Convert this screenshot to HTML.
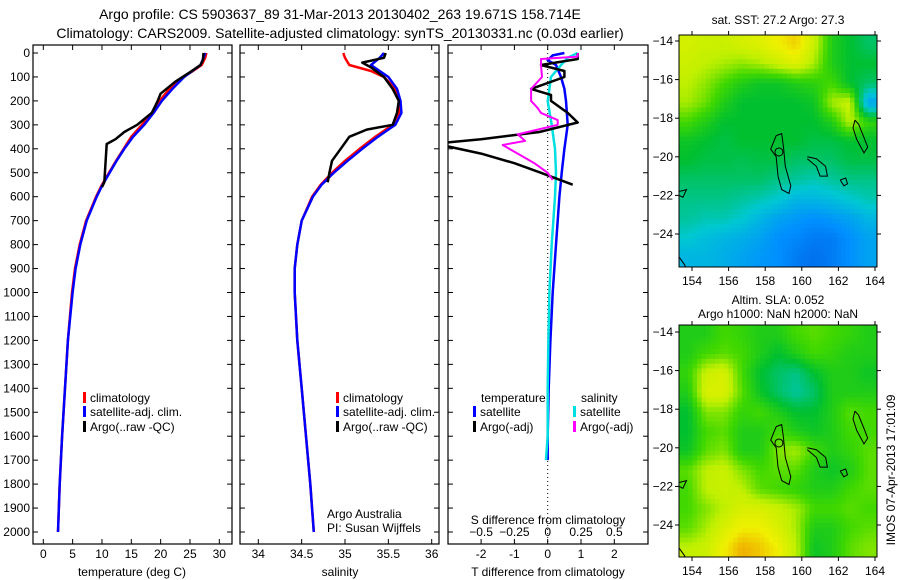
<!DOCTYPE html>
<html><head><meta charset="utf-8"><style>
html,body{margin:0;padding:0;background:#fff;}
svg{display:block;font-family:"Liberation Sans",sans-serif;}
text{fill:#000;}
</style></head><body>
<svg id="fig" width="900" height="580" viewBox="0 0 900 580" xmlns="http://www.w3.org/2000/svg">
<defs>
<clipPath id="c1"><rect x="33" y="45" width="199" height="499"/></clipPath>
<clipPath id="c2"><rect x="240" y="45" width="199" height="499"/></clipPath>
<clipPath id="c3"><rect x="448" y="45" width="200" height="499"/></clipPath>
<clipPath id="cm1"><rect x="679" y="35" width="198" height="232"/></clipPath>
<clipPath id="cm2"><rect x="679" y="325" width="198" height="232"/></clipPath>
<filter id="blur" x="0" y="0" width="1" height="1"><feGaussianBlur stdDeviation="5"/></filter>
</defs>
<text x="340" y="19" font-size="14" text-anchor="middle">Argo profile: CS 5903637_89 31-Mar-2013 20130402_263 19.671S 158.714E</text>
<text x="340" y="38" font-size="14" text-anchor="middle">Climatology: CARS2009. Satellite-adjusted climatology: synTS_20130331.nc (0.03d earlier)</text>
<g id="g1"></g>
<g id="g2"></g>
<g id="g3"></g>
<g id="m1"></g>
<g id="m2"></g>
<text x="778" y="24" font-size="12" text-anchor="middle">sat. SST: 27.2 Argo: 27.3</text>
<text x="778" y="304" font-size="12" text-anchor="middle">Altim. SLA: 0.052</text>
<text x="778" y="318" font-size="12" text-anchor="middle">Argo h1000: NaN h2000: NaN</text>
<text transform="translate(895,470) rotate(-90)" font-size="12" text-anchor="middle">IMOS 07-Apr-2013 17:01:09</text>
</svg>
<script>
// ---- data ----
const tempDepth=[0,20,50,75,100,150,200,250,300,350,400,450,500,550,600,700,800,900,1000,1200,1400,1600,1800,2000];
const tempClim=[27.8,27.6,27,25.5,23.8,21.5,19.8,18.5,16.8,15,13.7,12.4,11.2,10,9,7.3,6.2,5.4,4.9,4.2,3.7,3.2,2.8,2.5];
const tempSat=[27.6,27.3,26.8,25.4,24,22,20.2,18.8,17.2,15.3,13.8,12.5,11.3,10.1,9.1,7.4,6.3,5.5,5,4.2,3.7,3.2,2.8,2.5];
const argoTDepth=[0,30,50,80,120,170,200,250,300,330,360,380,420,460,500,540,560];
const argoTemp=[27.3,27.2,26.8,25.0,22.5,20.0,19.5,18.5,16.0,13.8,12.3,10.8,10.7,10.6,10.5,10.4,10.0];
const salClim=[34.98,35.0,35.05,35.3,35.45,35.58,35.62,35.62,35.55,35.35,35.17,35.0,34.85,34.72,34.62,34.5,34.45,34.42,34.42,34.45,34.5,34.55,34.6,34.64];
const salSat=[35.45,35.4,35.3,35.4,35.5,35.6,35.64,35.65,35.58,35.38,35.2,35.03,34.87,34.73,34.63,34.5,34.45,34.42,34.42,34.45,34.5,34.55,34.6,34.64];
const argoSDepth=[0,20,40,60,100,150,200,250,300,320,350,400,450,500,540];
const argoSal=[35.47,35.45,35.2,35.3,35.45,35.55,35.62,35.6,35.55,35.25,35.05,34.95,34.85,34.82,34.8];
const dTSatDepth=[0,10,30,50,100,150,200,300,400,500,600,800,1000,1200,1400,1600,1700];
const dTSat=[0.5,0.15,0.0,0.25,0.4,0.5,0.55,0.6,0.5,0.42,0.35,0.25,0.15,0.08,0.03,0,0];
const dSSatDepth=[0,20,50,100,150,200,300,400,500,600,800,1000,1200,1400,1600,1700];
const dSSat=[0.9,0.6,0.4,0.1,0.05,0.0,0.12,0.22,0.25,0.22,0.12,0.05,0.02,0,0,-0.05];
const dTArgoDepth=[0,25,50,75,100,150,175,200,250,290,330,360,380,390,420,460,500,550];
const dTArgo=[0.9,0.9,-0.2,0.5,0.5,-0.5,0.1,0.1,0.6,0.9,-0.25,-2.0,-3.5,-3.0,-2.0,-1.0,-0.2,0.75];
const dSArgoDepth=[0,15,25,50,100,150,200,230,250,280,300,320,340,367,384,420,460,500,530];
const dSArgo=[0.9,0.9,-0.2,-0.2,-0.17,-0.5,-0.5,-0.3,-0.2,0.3,0.3,-0.3,-0.9,-0.68,-1.35,-0.9,-0.4,0.0,0.15];
const depthTicks=[0,100,200,300,400,500,600,700,800,900,1000,1100,1200,1300,1400,1500,1600,1700,1800,1900,2000];
const tempTicks=[0,5,10,15,20,25,30];
const salTicks=[34,34.5,35,35.5,36];
const tDiffTicks=[-2,-1,0,1,2];
const sDiffTicks=[-0.5,-0.25,0,0.25,0.5];
const sDiffLabels=["\u22120.5","\u22120.25","0","0.25","0.5"];
const lonTicks=[154,156,158,160,162,164];
const latTicks=[14,16,18,20,22,24];
const sstGrid=[
[.74,.72,.72,.74,.76,.8,.84,.72,.55,.5,.45],
[.72,.7,.68,.66,.68,.72,.76,.68,.55,.5,.5],
[.7,.66,.6,.55,.52,.52,.55,.57,.6,.5,.45],
[.68,.63,.55,.5,.5,.5,.5,.52,.68,.72,.25],
[.6,.55,.5,.5,.5,.5,.5,.5,.55,.7,.58],
[.52,.5,.48,.5,.5,.5,.5,.48,.48,.5,.5],
[.5,.48,.48,.47,.48,.48,.45,.45,.45,.48,.48],
[.45,.45,.45,.45,.45,.42,.4,.38,.4,.42,.42],
[.42,.42,.42,.4,.38,.35,.3,.3,.32,.35,.38],
[.4,.38,.38,.35,.3,.25,.22,.2,.22,.25,.3],
[.35,.32,.3,.28,.25,.2,.18,.15,.15,.2,.25],
[.3,.3,.28,.25,.22,.2,.15,.12,.15,.2,.25]];
const slaGrid=[
[.55,.55,.6,.58,.55,.55,.6,.62,.6,.58,.55],
[.55,.6,.62,.6,.55,.5,.55,.6,.58,.55,.55],
[.58,.72,.75,.6,.5,.45,.42,.5,.55,.55,.52],
[.55,.75,.75,.62,.52,.45,.4,.45,.55,.55,.55],
[.5,.65,.65,.58,.6,.55,.5,.5,.55,.62,.6],
[.5,.6,.62,.55,.55,.6,.55,.52,.55,.6,.6],
[.52,.62,.65,.55,.55,.65,.68,.6,.55,.58,.62],
[.62,.7,.72,.65,.6,.62,.62,.55,.52,.55,.62],
[.6,.7,.72,.7,.62,.6,.58,.55,.55,.6,.62],
[.6,.65,.7,.75,.75,.72,.68,.6,.6,.62,.6],
[.62,.68,.75,.8,.8,.75,.68,.55,.55,.6,.62],
[.7,.72,.8,.88,.85,.8,.7,.52,.55,.62,.65]];
const island1=[[158.6,18.9],[158.9,18.8],[159.0,19.5],[159.1,20.5],[159.4,21.5],[159.3,21.9],[158.9,21.7],[158.7,21],[158.6,20],[158.3,19.6],[158.6,18.9]];
const island2=[[160.3,20.0],[160.8,20.1],[161.3,20.5],[161.4,21],[161.0,21],[160.8,20.5],[160.3,20.1]];
const island3=[[162.9,18.1],[163.1,18.3],[163.4,19.0],[163.6,19.5],[163.4,19.8],[163.0,19.1],[162.8,18.5],[162.9,18.1]];
const island4=[[153.3,21.8],[153.7,21.7],[153.5,22.1],[153.3,22.0]];
const island5=[[153.3,25.2],[153.6,25.6],[153.7,25.9]];
const island6=[[162.1,21.2],[162.4,21.1],[162.5,21.4],[162.3,21.5],[162.1,21.2]];

// ---- helpers ----
const NS="http://www.w3.org/2000/svg";
function mk(parent,tag,attrs){const e=document.createElementNS(NS,tag);for(const k in attrs)e.setAttribute(k,attrs[k]);parent.appendChild(e);return e;}
const y0=53, yPer=0.2395;
function yD(d){return y0+d*yPer;}
function xT(t){return 43.3+t*5.867;}
function xS(s){return 258.3+(s-34)*86.7;}
function xDT(v){return 547.7+v*33.3;}
function xDS(v){return 547.7+v*133.2;}

function frame(g,x,w,name){
  const r=mk(g,'rect',{x:x,y:45,width:w,height:499,fill:'none',stroke:'#000','stroke-width':1.2});
  
  
}
function yTicks(g,x1,x2,labels){
  depthTicks.forEach(d=>{
    const y=yD(d);
    const t1=mk(g,'line',{x1:x1,y1:y,x2:x1+5,y2:y,stroke:'#000'});
    
    
    const t2=mk(g,'line',{x1:x2,y1:y,x2:x2-5,y2:y,stroke:'#000'});
    
    
    if(labels){const t=mk(g,'text',{x:x1-3,y:y+4,'font-size':12,'text-anchor':'end'});t.textContent=d;
      
      }
  });
}
function xTicks(g,vals,fx,labs,ly){
  vals.forEach((v,i)=>{
    const x=fx(v);
    const l=mk(g,'line',{x1:x,y1:544,x2:x,y2:539,stroke:'#000'});
    
    
    const l2=mk(g,'line',{x1:x,y1:45,x2:x,y2:50,stroke:'#000'});
    
    
    const t=mk(g,'text',{x:x,y:ly,'font-size':12,'text-anchor':'middle'});t.textContent=labs?labs[i]:String(v);
    
    
  });
}
function line(g,depths,vals,fx,color,w,clip,name){
  const pts=depths.map((d,i)=>fx(vals[i]).toFixed(1)+','+yD(d).toFixed(1)).join(' ');
  const p=mk(g,'polyline',{points:pts,fill:'none',stroke:color,'stroke-width':w,'clip-path':'url(#'+clip+')','stroke-linejoin':'round'});
  
  
}
function legend(g,x,y,color,label){
  const r=mk(g,'rect',{x:x,y:y-10,width:3,height:11,fill:color});
  
  
  const t=mk(g,'text',{x:x+7,y:y,'font-size':12});t.textContent=label;
  
  
}
function text(g,x,y,s,name,anchor){
  const t=mk(g,'text',{x:x,y:y,'font-size':12,'text-anchor':anchor||'start'});t.textContent=s;
  
  
}

// ---- panel 1 ----
const g1=document.getElementById('g1');
frame(g1,33,199,'temperature-frame');
yTicks(g1,33,232,true);
xTicks(g1,tempTicks,xT,null,558);
text(g1,132,576,'temperature (deg C)','x-axis-title','middle');
line(g1,tempDepth,tempClim,xT,'#ff0000',2.5,'c1','climatology-line');
line(g1,tempDepth,tempSat,xT,'#0000ff',2.5,'c1','satellite-line');
line(g1,argoTDepth,argoTemp,xT,'#000000',2.5,'c1','argo-line');
legend(g1,83,402,'#ff0000','climatology');
legend(g1,83,416,'#0000ff','satellite-adj. clim.');
legend(g1,83,431,'#000000','Argo(..raw -QC)');

// ---- panel 2 ----
const g2=document.getElementById('g2');
frame(g2,240,199,'salinity-frame');
yTicks(g2,240,439,false);
xTicks(g2,salTicks,xS,null,558);
text(g2,340,576,'salinity','x-axis-title','middle');
line(g2,tempDepth,salClim,xS,'#ff0000',2.5,'c2','climatology-line');
line(g2,tempDepth,salSat,xS,'#0000ff',2.5,'c2','satellite-line');
line(g2,argoSDepth,argoSal,xS,'#000000',2.5,'c2','argo-line');
legend(g2,336,402,'#ff0000','climatology');
legend(g2,336,416,'#0000ff','satellite-adj. clim.');
legend(g2,336,431,'#000000','Argo(..raw -QC)');
text(g2,327,518,'Argo Australia','credit-line-1');
text(g2,327,532,'PI: Susan Wijffels','credit-line-2');

// ---- panel 3 ----
const g3=document.getElementById('g3');
frame(g3,448,200,'difference-frame');
yTicks(g3,448,648,false);
xTicks(g3,tDiffTicks,xDT,null,558);
sDiffTicks.forEach((v,i)=>{const t=mk(g3,'text',{x:xDS(v),y:536,'font-size':12,'text-anchor':'middle'});t.textContent=sDiffLabels[i];
  
  });
text(g3,548,524,'S difference from climatology','s-axis-title','middle');
text(g3,548,576,'T difference from climatology','t-axis-title','middle');
const zl=mk(g3,'line',{x1:547.7,y1:45,x2:547.7,y2:544,stroke:'#000','stroke-dasharray':'1,3'});


line(g3,dTSatDepth,dTSat,xDT,'#0000ff',2.5,'c3','t-satellite-diff');
line(g3,dSSatDepth,dSSat,xDT,'#00e0e0',2.5,'c3','s-satellite-diff');
line(g3,dTArgoDepth,dTArgo,xDT,'#000000',2.5,'c3','t-argo-diff');
line(g3,dSArgoDepth,dSArgo,xDT,'#ff00ff',2,'c3','s-argo-diff');
text(g3,481,402,'temperature','legend-header-temperature');
text(g3,581,402,'salinity','legend-header-salinity');
legend(g3,473,416,'#0000ff','satellite');
legend(g3,473,431,'#000000','Argo(-adj)');
legend(g3,573,416,'#00e0e0','satellite');
legend(g3,573,431,'#ff00ff','Argo(-adj)');

// ---- maps ----
const cstops=[[0,[0,64,208]],[0.2,[0,144,255]],[0.35,[0,200,210]],[0.5,[0,192,48]],[0.6,[64,216,0]],[0.7,[192,240,0]],[0.8,[240,240,0]],[0.9,[240,160,0]],[1,[224,96,0]]];
function cmap(v){
  for(let i=1;i<cstops.length;i++){if(v<=cstops[i][0]){const a=cstops[i-1],b=cstops[i];const f=(v-a[0])/(b[0]-a[0]);
    return 'rgb('+a[1].map((c,k)=>Math.round(c+(b[1][k]-c)*f)).join(',')+')';}}
  return 'rgb(224,96,0)';
}
function sample(grid,fr,fc){
  const R=grid.length-1,C=grid[0].length-1;
  const r=Math.max(0,Math.min(R,fr)),c=Math.max(0,Math.min(C,fc));
  const r0=Math.floor(r),c0=Math.floor(c),r1=Math.min(R,r0+1),c1=Math.min(C,c0+1);
  const a=r-r0,b=c-c0;
  return grid[r0][c0]*(1-a)*(1-b)+grid[r0][c1]*(1-a)*b+grid[r1][c0]*a*(1-b)+grid[r1][c1]*a*b;
}
function xLon(l){return 692+(l-154)*18.3;}
function drawMap(g,top,lat14,grid,clip,smooth,name){
  const cg=mk(g,'g',{'clip-path':'url(#'+clip+')'});
  const hg=mk(cg,'g',{});
  const rows=grid.length, cols=grid[0].length, up=4;
  const cw=198/(cols*up), ch=232/(rows*up);
  for(let r=0;r<rows*up;r++)for(let c=0;c<cols*up;c++){
    const v=sample(grid,(r+0.5)/up-0.5,(c+0.5)/up-0.5);
    const e=mk(hg,'rect',{x:(679+c*cw).toFixed(2),y:(top+r*ch).toFixed(2),width:(cw+0.4).toFixed(2),height:(ch+0.4).toFixed(2),fill:cmap(v)});
    
    
  }
  function yLat(l){return lat14+(l-14)*19.3;}
  [island1,island2,island3,island4,island5,island6].forEach(isl=>{
    const p=mk(cg,'polyline',{points:isl.map(q=>xLon(q[0]).toFixed(1)+','+yLat(q[1]).toFixed(1)).join(' '),fill:'none',stroke:'#000','stroke-width':1});
    
    
  });
  const c=mk(cg,'circle',{cx:xLon(158.75),cy:yLat(19.75),r:4,fill:'none',stroke:'#000'});
  
  
  const fr=mk(g,'rect',{x:679,y:top,width:198,height:232,fill:'none',stroke:'#000'});
  
  
  lonTicks.forEach(l=>{const x=xLon(l);
    mk(g,'line',{x1:x,y1:top,x2:x,y2:top-4,stroke:'#000'});
    mk(g,'line',{x1:x,y1:top+232,x2:x,y2:top+236,stroke:'#000'});
    const t=mk(g,'text',{x:x,y:top+250,'font-size':12,'text-anchor':'middle'});t.textContent=l;
    
    });
  latTicks.forEach(l=>{const y=yLat(l);
    mk(g,'line',{x1:679,y1:y,x2:675,y2:y,stroke:'#000'});
    mk(g,'line',{x1:877,y1:y,x2:881,y2:y,stroke:'#000'});
    const t=mk(g,'text',{x:673,y:y+4,'font-size':12,'text-anchor':'end'});t.textContent='\u2212'+l;
    
    });
}
drawMap(document.getElementById('m1'),35,41,sstGrid,'cm1',false,'sst-map');
drawMap(document.getElementById('m2'),325,332,slaGrid,'cm2',true,'sla-map');
</script>
</body></html>
